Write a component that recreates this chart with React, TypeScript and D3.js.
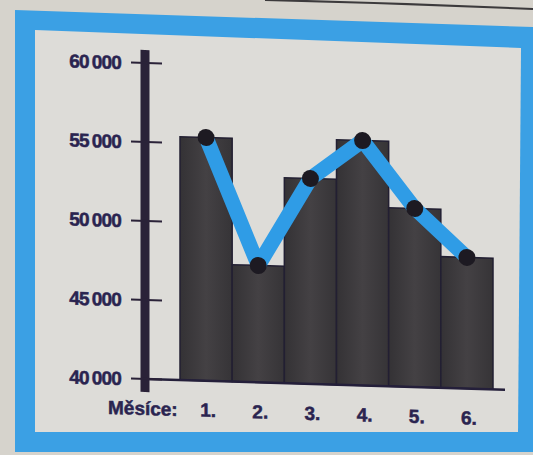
import React from "react";
import * as d3 from "d3";

const months = ["1.", "2.", "3.", "4.", "5.", "6."];
const values = [55400, 47400, 53000, 55500, 51300, 48300];
const yTicks = [40000, 45000, 50000, 55000, 60000];
const xTitle = "Měsíce:";

const W = 533;
const H = 455;
const AXIS_X = 145;
const SKEW = 1.7;

export default function App() {
  const y = d3.scaleLinear().domain([40000, 60000]).range([379, 63]);
  const x = d3.scaleBand<string>().domain(months).range([180, 493]).padding(0);
  const cx = (i: number) => (x(months[i]) as number) + x.bandwidth() / 2;
  const line = d3
    .line<number>()
    .x((_, i) => cx(i))
    .y((d) => y(d));
  const fmt = (v: number) => d3.format(",")(v).replace(",", "\u2009");
  const font = "'Liberation Sans', Arial, sans-serif";
  const ink = "#2a2450";

  return (
    <svg
      width={W}
      height={H}
      viewBox={`0 0 ${W} ${H}`}
      style={{ position: "absolute", left: 0, top: 0 }}
    >
      <defs>
        <linearGradient id="barg" x1="0" x2="1" y1="0" y2="0">
          <stop offset="0" stopColor="#343235" />
          <stop offset="0.5" stopColor="#444144" />
          <stop offset="1" stopColor="#363437" />
        </linearGradient>
      </defs>
      <rect x={0} y={0} width={W} height={H} fill="#d6d3cc" />
      <path d="M265,0 Q400,3 533,9" fill="none" stroke="#3c3a3c" strokeWidth={2} />
      <polygon points="15,10 533,27 533,452 15,452" fill="#3ba0e4" />
      <polygon points="35,30 521,48 518,432 35,432" fill="#dddcd8" />
      <g transform={`translate(${AXIS_X},0) skewY(${SKEW}) translate(${-AXIS_X},0)`}>
        {values.map((v, i) => (
          <rect
            key={i}
            x={x(months[i])}
            y={y(v)}
            width={x.bandwidth()}
            height={y(40000) - y(v)}
            fill="url(#barg)"
            stroke="#221f32"
            strokeWidth={1.5}
          />
        ))}
        <line x1={AXIS_X} x2={505} y1={y(40000)} y2={y(40000)} stroke="#241f3a" strokeWidth={2.5} />
        <rect x={AXIS_X - 4.5} y={50} width={9} height={342} fill="#2a2238" />
        {yTicks.map((t) => (
          <g key={t}>
            <line x1={131} x2={162} y1={y(t)} y2={y(t)} stroke="#2a2238" strokeWidth={2} />
            <text
              x={121}
              y={y(t)}
              dy="0.36em"
              textAnchor="end"
              fontFamily={font}
              fontWeight="bold"
              fontSize={19}
              letterSpacing={-0.8}
              fill={ink}
              stroke={ink}
              strokeWidth={0.5}
            >
              {fmt(t)}
            </text>
          </g>
        ))}
        <path
          d={line(values) as string}
          fill="none"
          stroke="#2f9ce6"
          strokeWidth={15}
          strokeLinejoin="round"
        />
        {values.map((v, i) => (
          <circle key={i} cx={cx(i)} cy={y(v)} r={8.5} fill="#1d1a22" />
        ))}
        <text
          x={108}
          y={415}
          fontFamily={font}
          fontWeight="bold"
          fontSize={19}
          fill={ink}
          stroke={ink}
          strokeWidth={0.5}
        >
          {xTitle}
        </text>
        {months.map((m, i) => (
          <text
            key={m}
            x={cx(i) + 2}
            y={415}
            textAnchor="middle"
            fontFamily={font}
            fontWeight="bold"
            fontSize={19}
            fill={ink}
            stroke={ink}
            strokeWidth={0.5}
          >
            {m}
          </text>
        ))}
      </g>
    </svg>
  );
}
